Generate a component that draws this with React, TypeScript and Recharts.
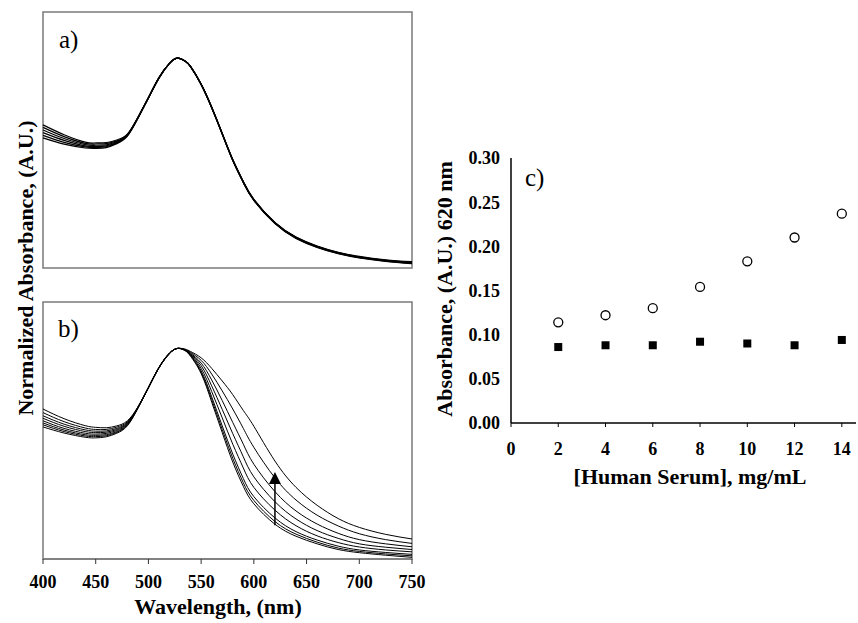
import React from 'react';
import {
  LineChart, Line, XAxis, YAxis, ReferenceArea, ReferenceLine,
  ScatterChart, Scatter,
} from 'recharts';

// ---------- Panels a) and b): normalized spectra ----------
const WAVELENGTHS = [400, 420, 440, 450, 460, 470, 480, 490, 500, 510, 520, 528, 535, 540, 550, 560, 570, 580, 590, 600, 620, 640, 660, 680, 700, 725, 750];
const WAVE_TICKS = [400, 450, 500, 550, 600, 650, 700, 750];

// panel a) spectra (nearly identical after the peak)
const A1 = [0.682, 0.635, 0.600, 0.596, 0.598, 0.610, 0.638, 0.718, 0.812, 0.907, 0.975, 1.0, 0.985, 0.960, 0.877, 0.767, 0.641, 0.517, 0.412, 0.327, 0.217, 0.148, 0.105, 0.075, 0.055, 0.039, 0.030];
const A2 = [0.670, 0.626, 0.594, 0.591, 0.593, 0.606, 0.636, 0.717, 0.812, 0.907, 0.975, 1.0, 0.985, 0.960, 0.876, 0.766, 0.641, 0.516, 0.411, 0.326, 0.216, 0.146, 0.103, 0.073, 0.053, 0.037, 0.028];
const A3 = [0.658, 0.617, 0.588, 0.585, 0.587, 0.602, 0.634, 0.716, 0.811, 0.906, 0.975, 1.0, 0.985, 0.960, 0.876, 0.765, 0.640, 0.515, 0.410, 0.325, 0.215, 0.145, 0.102, 0.072, 0.052, 0.036, 0.026];
const A4 = [0.645, 0.608, 0.582, 0.579, 0.582, 0.598, 0.632, 0.715, 0.811, 0.906, 0.975, 1.0, 0.985, 0.960, 0.875, 0.765, 0.640, 0.514, 0.409, 0.324, 0.214, 0.144, 0.101, 0.071, 0.051, 0.035, 0.025];
const A5 = [0.632, 0.599, 0.577, 0.574, 0.578, 0.595, 0.630, 0.714, 0.810, 0.905, 0.975, 1.0, 0.985, 0.960, 0.875, 0.764, 0.639, 0.513, 0.408, 0.323, 0.213, 0.142, 0.099, 0.069, 0.049, 0.033, 0.023];
const A6 = [0.620, 0.590, 0.572, 0.570, 0.574, 0.592, 0.628, 0.712, 0.810, 0.905, 0.975, 1.0, 0.985, 0.960, 0.874, 0.764, 0.639, 0.512, 0.407, 0.322, 0.212, 0.141, 0.098, 0.068, 0.048, 0.032, 0.021];

// panel b) spectra (red side broadens with increasing serum)
const B1 = [0.627, 0.598, 0.578, 0.575, 0.580, 0.597, 0.632, 0.715, 0.812, 0.907, 0.975, 1.0, 0.988, 0.962, 0.880, 0.745, 0.600, 0.460, 0.345, 0.262, 0.165, 0.108, 0.072, 0.045, 0.030, 0.018, 0.008];
const B2 = [0.637, 0.605, 0.584, 0.581, 0.585, 0.601, 0.635, 0.716, 0.812, 0.907, 0.975, 1.0, 0.989, 0.965, 0.886, 0.757, 0.615, 0.478, 0.362, 0.278, 0.178, 0.118, 0.080, 0.052, 0.036, 0.024, 0.015];
const B3 = [0.646, 0.612, 0.590, 0.587, 0.590, 0.605, 0.638, 0.717, 0.813, 0.908, 0.976, 1.0, 0.990, 0.968, 0.893, 0.770, 0.632, 0.498, 0.382, 0.296, 0.195, 0.130, 0.090, 0.061, 0.043, 0.031, 0.022];
const B4 = [0.656, 0.620, 0.597, 0.593, 0.596, 0.610, 0.641, 0.718, 0.813, 0.908, 0.976, 1.0, 0.991, 0.971, 0.905, 0.795, 0.670, 0.545, 0.432, 0.340, 0.232, 0.158, 0.110, 0.078, 0.057, 0.043, 0.034];
const B5 = [0.668, 0.630, 0.605, 0.600, 0.602, 0.615, 0.644, 0.719, 0.814, 0.909, 0.977, 1.0, 0.992, 0.974, 0.918, 0.822, 0.710, 0.595, 0.485, 0.390, 0.272, 0.190, 0.135, 0.098, 0.072, 0.056, 0.045];
const B6 = [0.680, 0.640, 0.613, 0.607, 0.608, 0.620, 0.647, 0.720, 0.814, 0.909, 0.977, 1.0, 0.993, 0.977, 0.930, 0.850, 0.752, 0.648, 0.545, 0.450, 0.320, 0.228, 0.166, 0.122, 0.092, 0.072, 0.058];
const B7 = [0.695, 0.652, 0.622, 0.615, 0.615, 0.626, 0.651, 0.721, 0.815, 0.910, 0.978, 1.0, 0.994, 0.981, 0.943, 0.878, 0.798, 0.712, 0.620, 0.530, 0.385, 0.280, 0.208, 0.157, 0.120, 0.092, 0.074];
const B8 = [0.712, 0.666, 0.633, 0.625, 0.623, 0.632, 0.656, 0.722, 0.815, 0.910, 0.978, 1.0, 0.996, 0.985, 0.955, 0.905, 0.845, 0.780, 0.705, 0.630, 0.465, 0.340, 0.255, 0.192, 0.150, 0.117, 0.095];

const ARROW_X = 620;
const ARROW_FROM = 0.16;
const ARROW_TO = 0.413;

// ---------- Panel c): absorbance at 620 nm ----------
const CONC = [2, 4, 6, 8, 10, 12, 14];
const SERUM_ABS = [0.114, 0.122, 0.130, 0.154, 0.183, 0.210, 0.237];
const CONTROL_ABS = [0.086, 0.088, 0.088, 0.092, 0.090, 0.088, 0.094];
const CONC_TICKS = [0, 2, 4, 6, 8, 10, 12, 14];
const ABS_TICKS = [0, 0.05, 0.1, 0.15, 0.2, 0.25, 0.3];

const A_SERIES = { a1: A1, a2: A2, a3: A3, a4: A4, a5: A5, a6: A6 };
const B_SERIES = { b1: B1, b2: B2, b3: B3, b4: B4, b5: B5, b6: B6, b7: B7, b8: B8 };

const rowsA = WAVELENGTHS.map((w, i) => {
  const r: any = { w };
  Object.entries(A_SERIES).forEach(([k, arr]) => { r[k] = arr[i]; });
  return r;
});
const rowsB = WAVELENGTHS.map((w, i) => {
  const r: any = { w };
  Object.entries(B_SERIES).forEach(([k, arr]) => { r[k] = arr[i]; });
  return r;
});
const serumPts = CONC.map((x, i) => ({ x, y: SERUM_ABS[i] }));
const controlPts = CONC.map((x, i) => ({ x, y: CONTROL_ABS[i] }));

const SERIF = '"Liberation Serif", "Times New Roman", serif';
const FRAME = '#7a7a7a';
const Y_MAX = 1.22;

const XTick = (p: any) => (
  <text x={p.x} y={p.y} dy="0.71em" textAnchor="middle" fontFamily={SERIF} fontWeight="bold" fontSize={18} fill="#000">
    {p.payload.value}
  </text>
);
const YTick = (p: any) => (
  <text x={p.x} y={p.y} dy="0.355em" textAnchor="end" fontFamily={SERIF} fontWeight="bold" fontSize={18} fill="#000">
    {Number(p.payload.value).toFixed(2)}
  </text>
);

const ArrowShape = (p: any) => {
  const { x1, y1, x2, y2 } = p;
  const top = Math.min(y1, y2);
  const bottom = Math.max(y1, y2);
  return (
    <g>
      <line x1={x1} y1={bottom} x2={x2} y2={top + 10} stroke="#000" strokeWidth={1.5} />
      <polygon points={`${x2},${top} ${x2 - 6},${top + 12} ${x2 + 6},${top + 12}`} fill="#000" />
    </g>
  );
};

const OpenCircle = (p: any) => (
  <circle cx={p.cx} cy={p.cy} r={4.5} fill="#fff" stroke="#000" strokeWidth={1.3} />
);
const FilledSquare = (p: any) => (
  <rect x={p.cx - 4} y={p.cy - 4} width={8} height={8} fill="#000" />
);

export default function App() {
  return (
    <div style={{ position: 'absolute', left: 0, top: 0, width: 858, height: 623, background: '#fff', overflow: 'hidden' }}>
      {/* Panel a */}
      <div style={{ position: 'absolute', left: 0, top: 0 }}>
        <LineChart width={430} height={280} data={rowsA} margin={{ top: 12, right: 18, bottom: 12, left: 43 }}>
          <XAxis dataKey="w" type="number" domain={[400, 750]} hide />
          <YAxis type="number" domain={[0, Y_MAX]} hide />
          {Object.keys(A_SERIES).map((k) => (
            <Line key={k} dataKey={k} type="natural" stroke="#000" strokeWidth={1.2} dot={false} isAnimationActive={false} />
          ))}
          <ReferenceArea x1={400} x2={750} y1={0} y2={Y_MAX} fill="none" stroke={FRAME} strokeWidth={1.5} />
        </LineChart>
      </div>

      {/* Panel b */}
      <div style={{ position: 'absolute', left: 0, top: 290 }}>
        <LineChart width={430} height={333} data={rowsB} margin={{ top: 12, right: 18, bottom: 0, left: 43 }}>
          <XAxis
            dataKey="w" type="number" domain={[400, 750]} ticks={WAVE_TICKS} height={64}
            axisLine={{ stroke: FRAME, strokeWidth: 1.5 }} tickLine={{ stroke: '#333' }} tickSize={5} tickMargin={11}
            tick={XTick} interval={0}
          />
          <YAxis type="number" domain={[0, Y_MAX]} hide />
          {Object.keys(B_SERIES).map((k) => (
            <Line key={k} dataKey={k} type="natural" stroke="#000" strokeWidth={1} dot={false} isAnimationActive={false} />
          ))}
          <ReferenceArea x1={400} x2={750} y1={0} y2={Y_MAX} fill="none" stroke={FRAME} strokeWidth={1.5} />
          <ReferenceLine
            segment={[{ x: ARROW_X, y: ARROW_FROM }, { x: ARROW_X, y: ARROW_TO }]}
            shape={ArrowShape}
          />
        </LineChart>
      </div>

      {/* Panel c */}
      <div style={{ position: 'absolute', left: 420, top: 140 }}>
        <ScatterChart width={438} height={325} margin={{ top: 18, right: 2, bottom: 0, left: 0 }}>
          <XAxis
            dataKey="x" type="number" domain={[0, 14.6]} ticks={CONC_TICKS} height={42} interval={0}
            axisLine={{ stroke: '#000', strokeWidth: 1.5 }} tickLine={{ stroke: '#000' }} tickSize={4} tickMargin={15}
            tick={XTick}
          />
          <YAxis
            dataKey="y" type="number" domain={[0, 0.3]} ticks={ABS_TICKS} width={91} interval={0}
            axisLine={{ stroke: '#000', strokeWidth: 1.5 }} tickLine={false} tickSize={0} tickMargin={11}
            tick={YTick}
          />
          <Scatter data={serumPts} shape={OpenCircle} isAnimationActive={false} />
          <Scatter data={controlPts} shape={FilledSquare} isAnimationActive={false} />
        </ScatterChart>
      </div>

      {/* Titles and panel letters */}
      <svg width={858} height={623} style={{ position: 'absolute', left: 0, top: 0, pointerEvents: 'none' }}>
        <g fontFamily={SERIF} fill="#000">
          <text transform="translate(33,268) rotate(-90)" textAnchor="middle" fontSize={22} fontWeight="bold">
            Normalized Absorbance, (A.U.)
          </text>
          <text x={218} y={614} textAnchor="middle" fontSize={22} fontWeight="bold">Wavelength, (nm)</text>
          <text transform="translate(452,289) rotate(-90)" textAnchor="middle" fontSize={22} fontWeight="bold">
            Absorbance, (A.U.) 620 nm
          </text>
          <text x={690} y={484} textAnchor="middle" fontSize={22} fontWeight="bold">[Human Serum], mg/mL</text>
          <text x={59} y={48} fontSize={25}>a)</text>
          <text x={58} y={337} fontSize={25}>b)</text>
          <text x={525} y={186} fontSize={25}>c)</text>
        </g>
      </svg>
    </div>
  );
}
